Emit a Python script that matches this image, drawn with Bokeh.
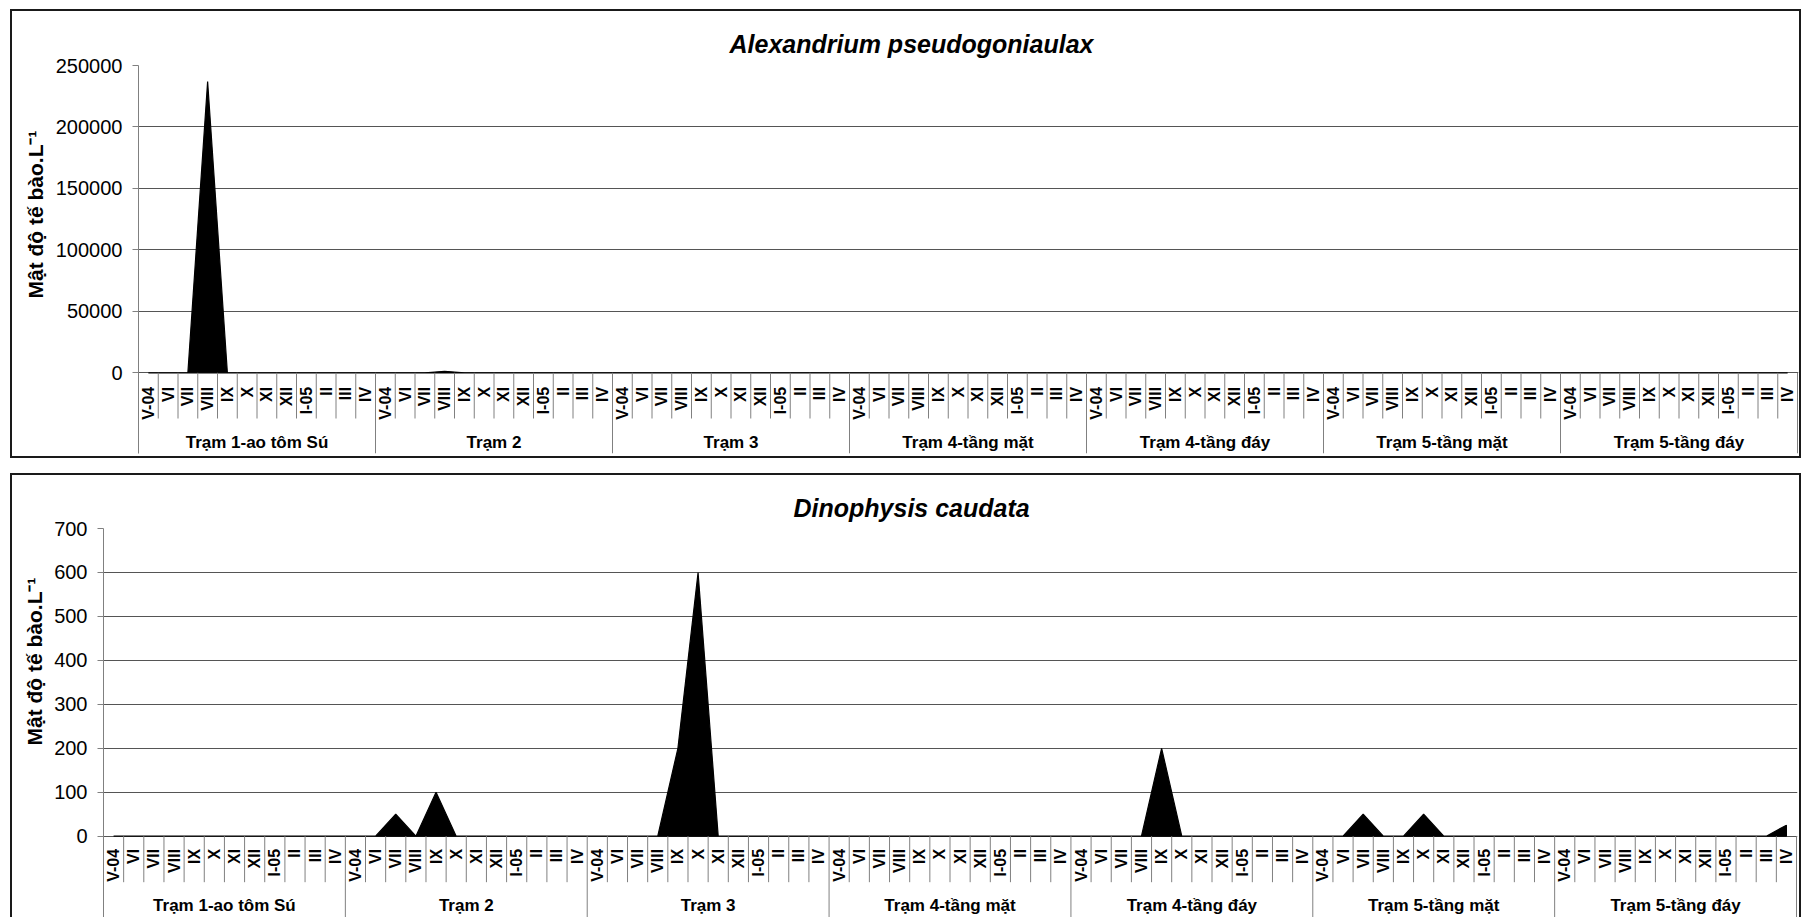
from math import pi

import numpy as np
from bokeh.core.properties import value
from bokeh.embed import file_html
from bokeh.models import FixedTicker, NumeralTickFormatter, Range1d, Title
from bokeh.plotting import figure
from bokeh.resources import INLINE

FONT = "Liberation Sans"

stations = ["Trạm 1-ao tôm Sú", "Trạm 2", "Trạm 3", "Trạm 4-tầng mặt",
            "Trạm 4-tầng đáy", "Trạm 5-tầng mặt", "Trạm 5-tầng đáy"]
months = ["V-04", "VI", "VII", "VIII", "IX", "X", "XI", "XII", "I-05", "II", "III", "IV"]

# Cell density (tế bào/L), 12 monthly samples per station, stations in order
alexandrium = [
    0, 0, 0, 237000, 0, 0, 0, 0, 0, 0, 0, 0,
    0, 0, 0, 1200, 0, 0, 0, 0, 0, 0, 0, 0,
    0, 0, 0, 0, 0, 0, 0, 0, 0, 0, 0, 0,
    0, 0, 0, 0, 0, 0, 0, 0, 0, 0, 0, 0,
    0, 0, 0, 0, 0, 0, 0, 0, 0, 0, 0, 0,
    0, 0, 0, 0, 0, 0, 0, 0, 0, 0, 0, 0,
    0, 0, 0, 0, 0, 0, 0, 0, 0, 0, 0, 0,
]
dinophysis = [
    0, 0, 0, 0, 0, 0, 0, 0, 0, 0, 0, 0,
    0, 0, 50, 0, 100, 0, 0, 0, 0, 0, 0, 0,
    0, 0, 0, 0, 200, 600, 0, 0, 0, 0, 0, 0,
    0, 0, 0, 0, 0, 0, 0, 0, 0, 0, 0, 0,
    0, 0, 0, 0, 200, 0, 0, 0, 0, 0, 0, 0,
    0, 0, 50, 0, 0, 50, 0, 0, 0, 0, 0, 0,
    0, 0, 0, 0, 0, 0, 0, 0, 0, 0, 0, 25,
]
alexandrium_ticks = [0, 50000, 100000, 150000, 200000, 250000]
dinophysis_ticks = [0, 100, 200, 300, 400, 500, 600, 700]

Y_LABEL = "Mật độ tế bào.L⁻¹"


def build_chart(title, values, ticks, top_margin, fig_w, fig_h, borders,
                zero_px, title_offset, title_standoff, ylabel_offset,
                sep_px, label_gap_px, group_px):
    left, top, right, bottom = borders
    frame_w = fig_w - left - right
    frame_h = fig_h - top - bottom
    n_months = len(months)
    n = len(stations) * n_months

    # data units per screen pixel on the value axis
    upp = ticks[-1] / zero_px
    y_min = -(frame_h - zero_px) * upp
    x_end = n * frame_w / (frame_w - 1)

    p = figure(width=fig_w, height=fig_h,
               x_range=Range1d(0, x_end), y_range=Range1d(y_min, ticks[-1]),
               x_axis_type=None, output_backend="svg", toolbar_location=None,
               min_border_left=left, min_border_top=top,
               min_border_right=right, min_border_bottom=bottom)
    p.margin = (top_margin, 0, 0, 12)
    p.styles = {"outline": "2px solid #1a1a1a"}
    p.outline_line_color = None
    p.background_fill_color = "white"
    p.border_fill_color = "white"

    p.title.text = title
    p.title.align = "left"
    p.title.offset = title_offset
    p.title.standoff = title_standoff
    p.title.text_font = FONT
    p.title.text_font_style = "bold italic"
    p.title.text_font_size = "25px"
    p.title.text_color = "black"

    ax = p.yaxis[0]
    ax.ticker = FixedTicker(ticks=ticks)
    ax.formatter = NumeralTickFormatter(format="0")
    ax.axis_line_color = "#808080"
    ax.major_tick_line_color = "#808080"
    ax.major_tick_out = 6
    ax.major_tick_in = 0
    ax.minor_tick_line_color = None
    ax.major_label_text_font = FONT
    ax.major_label_text_font_size = "20px"
    ax.major_label_text_color = "black"
    ax.major_label_standoff = 10

    # value-axis caption, kept beside the plotting area rather than the whole frame
    p.add_layout(Title(text=Y_LABEL, align="left", offset=ylabel_offset,
                       standoff=11, text_font=FONT, text_font_style="bold",
                       text_font_size="21px", text_color="black"), "left")

    p.ygrid.ticker = FixedTicker(ticks=ticks)
    p.ygrid.grid_line_color = "#555555"
    p.ygrid.grid_line_width = 1

    centers = np.arange(n) + 0.5

    # filled area, closed along the zero line
    xs = list(centers) + [centers[-1], centers[0]]
    ys = list(values) + [0, 0]
    p.patch(xs, ys, fill_color="black", line_color="black", line_width=1.2)

    # month dividers and station dividers of the category axis
    month_x = [k for k in range(1, n) if k % n_months]
    p.segment(x0=month_x, y0=[0] * len(month_x), x1=month_x,
              y1=[-sep_px * upp] * len(month_x), line_color="#808080", line_width=1)
    group_x = [n_months * g for g in range(1, len(stations) + 1)]
    p.segment(x0=group_x, y0=[0] * len(group_x), x1=group_x,
              y1=[y_min] * len(group_x), line_color="#808080", line_width=1)

    p.text(x=centers, y=[-label_gap_px * upp] * n, text=months * len(stations),
           angle=pi / 2, text_align="right", text_baseline="middle",
           text_font=value(FONT), text_font_style="bold", text_font_size="16px",
           text_color="black")

    group_centers = [n_months * g + n_months / 2 for g in range(len(stations))]
    p.text(x=group_centers, y=[-group_px * upp] * len(stations), text=stations,
           text_align="center", text_baseline="middle",
           text_font=value(FONT), text_font_style="bold", text_font_size="17px",
           text_color="black")
    return p


p1 = build_chart("Alexandrium pseudogoniaulax", alexandrium, alexandrium_ticks,
                 top_margin=11, fig_w=1787, fig_h=445, borders=(126, 54, 1, 3),
                 zero_px=307.3, title_offset=591, title_standoff=16,
                 ylabel_offset=155, sep_px=45.7, label_gap_px=14, group_px=69.7)
p2 = build_chart("Dinophysis caudata", dinophysis, dinophysis_ticks,
                 top_margin=19, fig_w=1787, fig_h=442, borders=(91, 53, 2, 0),
                 zero_px=307.7, title_offset=690, title_standoff=14,
                 ylabel_offset=172, sep_px=46, label_gap_px=12.7, group_px=69.3)

open("out.html", "w").write(file_html([p1, p2], INLINE))
